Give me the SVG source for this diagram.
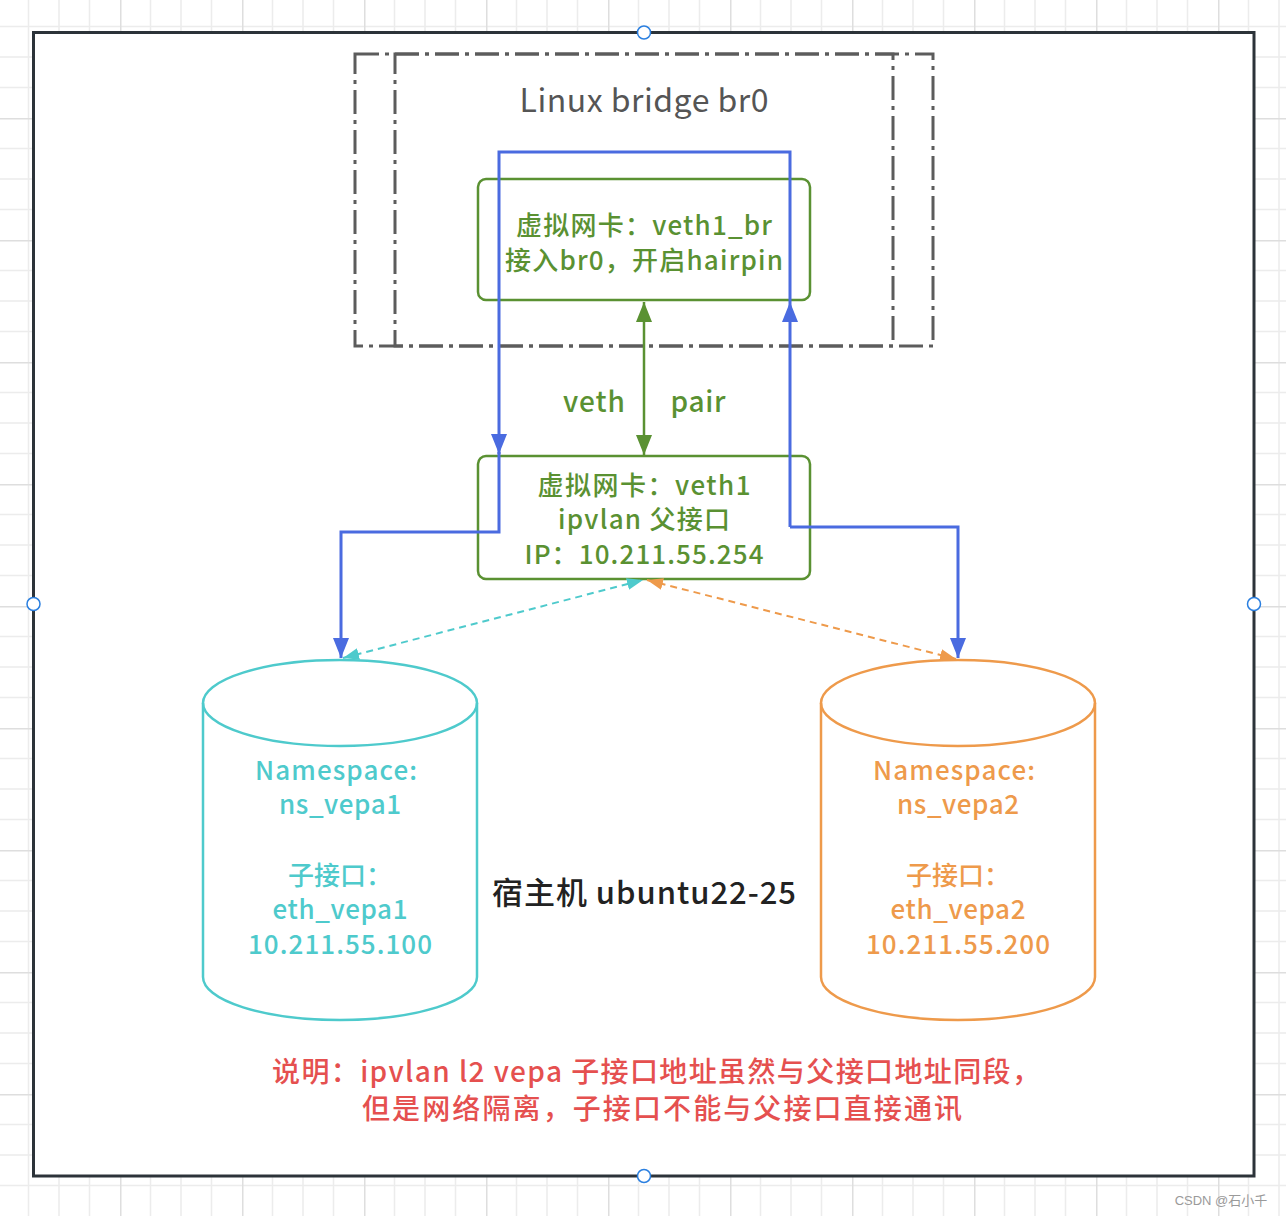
<svg xmlns="http://www.w3.org/2000/svg" width="1286" height="1216" viewBox="0 0 1286 1216">
<style>
.t{font-family:"Noto Sans CJK SC","Noto Sans",sans-serif;text-anchor:middle;font-weight:500}
.g{fill:#5a9132;font-size:26px}
.c{fill:#4ecacc;font-size:26px}
.o{fill:#ee9a4b;font-size:26px}
.box{fill:#fff;stroke:#5a9132;stroke-width:2.5}
.dd{fill:none;stroke:#5c5c5c;stroke-width:3;stroke-dasharray:24 6 4 6}
.bl{fill:none;stroke:#4a6be0;stroke-width:3}
.h{fill:#fff;stroke:#2a7fe0;stroke-width:1.5}
</style>
<defs>
<pattern id="grid" x="-2" y="-4" width="122" height="122" patternUnits="userSpaceOnUse">
<path d="M30.5 0V122M61 0V122M91.5 0V122M0 30.5H122M0 61H122M0 91.5H122" stroke="#ececec" stroke-width="1.5" fill="none"/>
<path d="M0.75 0V122M0 0.75H122" stroke="#dedede" stroke-width="1.5" fill="none"/>
</pattern>
<marker id="ab" viewBox="0 0 20 16" markerWidth="20" markerHeight="16" refX="20" refY="8" orient="auto" markerUnits="userSpaceOnUse"><path d="M0,0L20,8L0,16Z" fill="#4a6be0"/></marker>
<marker id="ag" viewBox="0 0 20 16" markerWidth="20" markerHeight="16" refX="20" refY="8" orient="auto-start-reverse" markerUnits="userSpaceOnUse"><path d="M0,0L20,8L0,16Z" fill="#5a9132"/></marker>
<marker id="ac" viewBox="0 0 16 12" markerWidth="16" markerHeight="12" refX="16" refY="6" orient="auto-start-reverse" markerUnits="userSpaceOnUse"><path d="M0,0L16,6L0,12Z" fill="#4ecacc"/></marker>
<marker id="ao" viewBox="0 0 16 12" markerWidth="16" markerHeight="12" refX="16" refY="6" orient="auto-start-reverse" markerUnits="userSpaceOnUse"><path d="M0,0L16,6L0,12Z" fill="#ee9a4b"/></marker>
</defs>
<rect width="1286" height="1216" fill="#fff"/>
<rect width="1286" height="1216" fill="url(#grid)"/>
<g id="frame">
<rect x="33.5" y="32.5" width="1220.5" height="1143.5" fill="#fff" stroke="#2c3339" stroke-width="3"/>
</g>
<g id="bridge">
<rect class="dd" x="355" y="54" width="578" height="292"/>
<rect class="dd" x="395" y="54" width="498" height="292"/>
<text class="t" x="644" y="112" textLength="249" style="fill:#555;font-size:32px;font-weight:400">Linux bridge br0</text>
</g>
<g id="veth1_br">
<rect class="box" x="478" y="179" width="332" height="121" rx="8"/>
<text class="t g" x="644" y="235" textLength="256">虚拟网卡：veth1_br</text>
<text class="t g" x="644" y="270" textLength="278">接入br0，开启hairpin</text>
</g>
<g id="veth1">
<rect class="box" x="478" y="456" width="332" height="123" rx="8"/>
<text class="t g" x="644" y="495" textLength="213">虚拟网卡：veth1</text>
<text class="t g" x="644" y="529" textLength="172">ipvlan 父接口</text>
<text class="t g" x="644" y="564" textLength="239">IP：10.211.55.254</text>
</g>
<g id="ns_vepa1">
<path d="M203,703A137,43 0 0 1 477,703L477,977A137,43 0 0 1 203,977Z" fill="#fff" stroke="#4ecacc" stroke-width="2.5"/>
<path d="M203,703A137,43 0 0 0 477,703" fill="none" stroke="#4ecacc" stroke-width="2.5"/>
<text class="t c" x="336" y="780" textLength="162">Namespace:</text>
<text class="t c" x="340" y="814" textLength="122">ns_vepa1</text>
<text class="t c" x="340" y="885">子接口：</text>
<text class="t c" x="340" y="919" textLength="135">eth_vepa1</text>
<text class="t c" x="340" y="954" textLength="184">10.211.55.100</text>
</g>
<g id="ns_vepa2">
<path d="M821,703A137,43 0 0 1 1095,703L1095,977A137,43 0 0 1 821,977Z" fill="#fff" stroke="#ee9a4b" stroke-width="2.5"/>
<path d="M821,703A137,43 0 0 0 1095,703" fill="none" stroke="#ee9a4b" stroke-width="2.5"/>
<text class="t o" x="954" y="780" textLength="162">Namespace:</text>
<text class="t o" x="958" y="814" textLength="122">ns_vepa2</text>
<text class="t o" x="958" y="885">子接口：</text>
<text class="t o" x="958" y="919" textLength="135">eth_vepa2</text>
<text class="t o" x="958" y="954" textLength="184">10.211.55.200</text>
</g>
<g id="host">
<text class="t" x="644" y="904" textLength="304" style="fill:#222;font-size:31px">宿主机 ubuntu22-25</text>
</g>
<g id="connectors">
<line x1="644" y1="302" x2="644" y2="455" stroke="#5a9132" stroke-width="2.5" marker-start="url(#ag)" marker-end="url(#ag)"/>
<text class="t g" x="594" y="412" textLength="62" style="font-size:28px">veth</text>
<text class="t g" x="698" y="412" textLength="55" style="font-size:28px">pair</text>
<path class="bl" d="M790,527V302" marker-end="url(#ab)"/>
<path class="bl" d="M790,302V152H499V454" marker-end="url(#ab)"/>
<path class="bl" d="M499,452V532H341V658" marker-end="url(#ab)"/>
<path class="bl" d="M790,527H958V658" marker-end="url(#ab)"/>
<line x1="343" y1="658" x2="643" y2="580" stroke="#4ecacc" stroke-width="2" stroke-dasharray="7 5" marker-start="url(#ac)" marker-end="url(#ac)"/>
<line x1="647" y1="580" x2="956" y2="659" stroke="#ee9a4b" stroke-width="2" stroke-dasharray="7 5" marker-start="url(#ao)" marker-end="url(#ao)"/>
</g>
<g id="note">
<text class="t" x="656" y="1082" textLength="768" style="fill:#e5504f;font-size:28px">说明：ipvlan l2 vepa 子接口地址虽然与父接口地址同段，</text>
<text class="t" x="662" y="1119" textLength="600" style="fill:#e5504f;font-size:28px">但是网络隔离，子接口不能与父接口直接通讯</text>
</g>
<g id="handles">
<circle class="h" cx="644" cy="32.5" r="6.5"/>
<circle class="h" cx="33.5" cy="604" r="6.5"/>
<circle class="h" cx="1254" cy="604" r="6.5"/>
<circle class="h" cx="644" cy="1176" r="6.5"/>
</g>
<text x="1221" y="1205" style="font-family:'Liberation Sans','Noto Sans CJK SC',sans-serif;font-size:13px;fill:#9a9a9a;text-anchor:middle">CSDN @石小千</text>
</svg>
